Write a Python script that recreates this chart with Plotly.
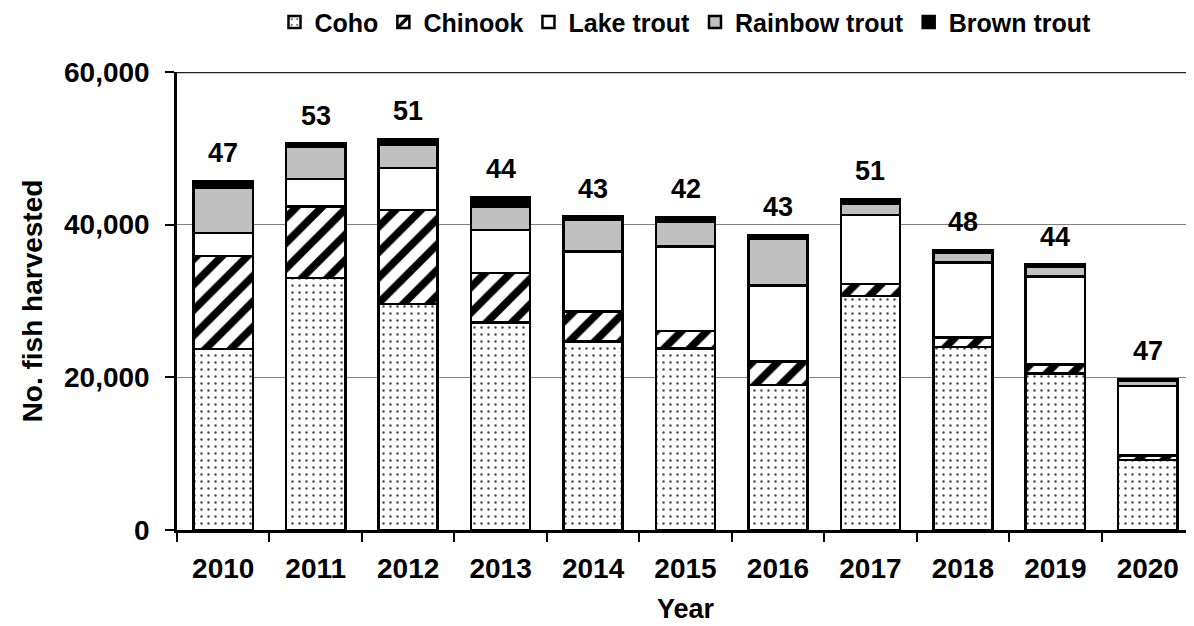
import plotly.graph_objects as go

years = ["2010", "2011", "2012", "2013", "2014", "2015", "2016", "2017", "2018", "2019", "2020"]
coho = [23700, 33000, 29600, 27200, 24700, 23800, 19000, 30650, 24000, 20530, 9170]
chinook = [12200, 9350, 12300, 6500, 3900, 2270, 3100, 1570, 1230, 1180, 560]
lake_trout = [3000, 3630, 5540, 5600, 7860, 11040, 9900, 9040, 9830, 11480, 9130]
rainbow_trout = [6000, 4230, 2970, 3050, 4150, 3280, 6210, 1530, 1260, 1310, 690]
brown_trout = [800, 400, 750, 1230, 430, 580, 400, 520, 350, 260, 260]
bar_labels = [47, 53, 51, 44, 43, 42, 43, 51, 48, 44, 47]

FONT = "Liberation Sans, Arial, sans-serif"
line = dict(color="black", width=2.5)

fig = go.Figure()
fig.add_trace(go.Bar(
    name="Coho", x=years, y=coho,
    marker=dict(color="white", line=line,
                pattern=dict(shape=".", fgcolor="#4a4a4a", bgcolor="white", fgopacity=1,
                             size=7, solidity=0.1, fillmode="replace")),
))
fig.add_trace(go.Bar(
    name="Chinook", x=years, y=chinook,
    marker=dict(color="white", line=line,
                pattern=dict(shape="/", fgcolor="black", bgcolor="white", fgopacity=1,
                             size=18, solidity=0.42, fillmode="replace")),
))
fig.add_trace(go.Bar(
    name="Lake trout", x=years, y=lake_trout,
    marker=dict(color="white", line=line),
))
fig.add_trace(go.Bar(
    name="Rainbow trout", x=years, y=rainbow_trout,
    marker=dict(color="#c0c0c0", line=line),
))
fig.add_trace(go.Bar(
    name="Brown trout", x=years, y=brown_trout,
    marker=dict(color="black", line=line),
))

totals = [a + b + c + d + e for a, b, c, d, e in zip(coho, chinook, lake_trout, rainbow_trout, brown_trout)]
for i, (tot, lab) in enumerate(zip(totals, bar_labels)):
    fig.add_annotation(x=i, y=tot, xref="x", yref="y", text=str(lab), showarrow=False,
                       yanchor="middle", yshift=28,
                       font=dict(family=FONT, size=27, color="black", weight="bold"))

fig.add_shape(type="line", xref="paper", yref="y", x0=0, x1=1, y0=60000, y1=60000,
              line=dict(color="#222222", width=2.5))

# page body has an 8px margin, so the figure is drawn 8px smaller and offset
fig.update_layout(
    width=1186, height=618,
    barmode="stack", bargap=0.36,
    paper_bgcolor="white", plot_bgcolor="white",
    margin=dict(l=169, r=0, t=64, b=96, autoexpand=False),
    font=dict(family=FONT, size=28, color="black", weight="bold"),
    showlegend=True,
    legend=dict(orientation="h", x=0.5, xanchor="center",
                yref="container", y=0.977, yanchor="middle",
                traceorder="normal", itemwidth=30,
                font=dict(family=FONT, size=25, color="black", weight="bold")),
    xaxis=dict(
        type="category",
        title=dict(text="Year", standoff=16,
                   font=dict(family=FONT, size=27, color="black", weight="bold")),
        showline=True, linecolor="black", linewidth=2.5,
        ticks="outside", tickson="boundaries", ticklen=9, tickwidth=2, tickcolor="black",
        ticklabelstandoff=12,
        tickfont=dict(family=FONT, size=28, color="black", weight="bold"),
        range=[-0.5, 10.5],
    ),
    yaxis=dict(
        title=dict(text="No. fish harvested", standoff=14,
                   font=dict(family=FONT, size=28, color="black", weight="bold")),
        range=[0, 60000], tickvals=[0, 20000, 40000, 60000], tickformat=",",
        showline=True, linecolor="black", linewidth=2.5,
        ticks="outside", ticklen=9, tickwidth=2, tickcolor="black",
        showgrid=True, gridcolor="#808080", gridwidth=1.2,
        zeroline=False,
        ticklabelstandoff=10,
        tickfont=dict(family=FONT, size=28, color="black", weight="bold"),
    ),
)

fig.write_html("out.html")
